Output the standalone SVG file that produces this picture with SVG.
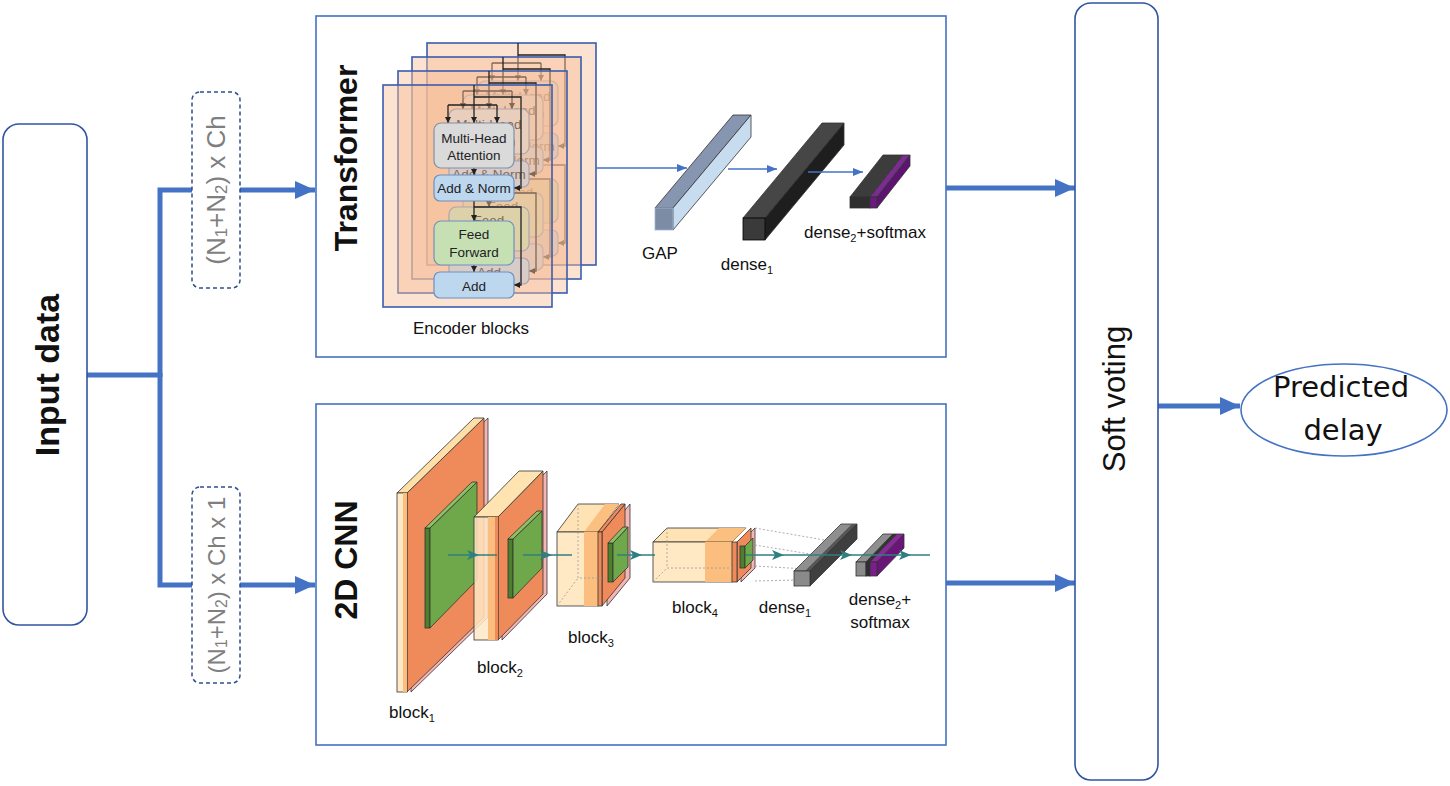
<svg xmlns="http://www.w3.org/2000/svg" width="1450" height="786" viewBox="0 0 1450 786">
<style>
text{font-family:"Liberation Sans",Arial,sans-serif;fill:#111}
.big{font-size:32px;font-weight:bold}
.lbl{font-size:17px}
.dim{font-size:26px;fill:#7F7F7F}
.sub{font-size:0.65em}
.frame{fill:none;stroke:#4472C4;stroke-width:1.6}
.node{fill:#fff;stroke:#2F55A0;stroke-width:1.6}
.dash{fill:#fff;stroke:#2F4F8F;stroke-width:1.5;stroke-dasharray:4 3}
.thick{fill:none;stroke:#4472C4;stroke-width:5;marker-end:url(#ab)}
.thin{fill:none;stroke:#4472C4;stroke-width:1.3;marker-end:url(#as)}
.pg{fill:#F6BE9A;fill-opacity:0.45;stroke:#3A5DAE;stroke-width:1.6}
.bx{font-size:13.5px;fill:#222}
.ka{fill:none;stroke:#222;stroke-width:1.3}
.ke{fill:none;stroke:#222;stroke-width:1.3;marker-end:url(#ak)}
.teal{fill:none;stroke:#2F7F7F;stroke-width:1.5;marker-mid:url(#at)}
.ed{stroke:#333;stroke-width:0.8}
.hid{fill:none;stroke:#999;stroke-width:0.8;stroke-dasharray:2 2}
.yel{fill:#FFE8C4}
.lor{fill:#FBBE7E}
.org{fill:#EF8B5A}
.pnk{fill:#F4B6B4}
.gd{fill:#4E7F2E}
.gs{fill:#6FA84A}
.gt{fill:#8CC063}
</style>
<defs>
<marker id="ab" markerUnits="userSpaceOnUse" markerWidth="20" markerHeight="18" refX="20" refY="9" orient="auto"><path d="M0,0 L20,9 L0,18 z" fill="#4472C4"/></marker>
<marker id="as" markerUnits="userSpaceOnUse" markerWidth="10" markerHeight="8" refX="10" refY="4" orient="auto"><path d="M0,0 L10,4 L0,8 z" fill="#4472C4"/></marker>
<marker id="ak" markerUnits="userSpaceOnUse" markerWidth="6" markerHeight="6" refX="6" refY="3" orient="auto"><path d="M0,0 L6,3 L0,6 z" fill="#222"/></marker>
<marker id="at" markerUnits="userSpaceOnUse" markerWidth="12" markerHeight="10" refX="8" refY="5" orient="auto"><path d="M0,0 L12,5 L0,10 L3,5 z" fill="#2F7F7F"/></marker>
</defs>

<g id="connectors">
<path d="M87,375 H160" fill="none" stroke="#4472C4" stroke-width="5"/>
<path class="thick" d="M160,377 V190 H315"/>
<path class="thick" d="M160,373 V585 H315"/>
<path class="thick" d="M946,188 H1075"/>
<path class="thick" d="M946,583 H1075"/>
<path class="thick" d="M1158,406 H1240"/>
</g>

<g id="input-data">
<rect class="node" x="3" y="124" width="84" height="501" rx="16"/>
<text class="big" transform="translate(47,375) rotate(-90)" text-anchor="middle" dominant-baseline="central" style="font-size:34px">Input data</text>
</g>

<g id="dim-transformer">
<rect class="dash" x="192" y="92" width="48" height="196" rx="8"/>
<text class="dim" transform="translate(216,190) rotate(-90)" text-anchor="middle" dominant-baseline="central">(N<tspan class="sub" dy="5">1</tspan><tspan dy="-5">+N</tspan><tspan class="sub" dy="5">2</tspan><tspan dy="-5">) x Ch</tspan></text>
</g>

<g id="dim-cnn">
<rect class="dash" x="192" y="487" width="48" height="196" rx="8"/>
<text class="dim" transform="translate(216,585) rotate(-90)" text-anchor="middle" dominant-baseline="central" style="font-size:24px">(N<tspan class="sub" dy="5">1</tspan><tspan dy="-5">+N</tspan><tspan class="sub" dy="5">2</tspan><tspan dy="-5">) x Ch x 1</tspan></text>
</g>

<g id="transformer">
<rect class="frame" x="316" y="16" width="630" height="341"/>
<text class="big" transform="translate(346,158) rotate(-90)" text-anchor="middle" dominant-baseline="central">Transformer</text>
<use href="#enc1" transform="translate(44,-42)"/>
<use href="#enc1" transform="translate(29,-28)"/>
<use href="#enc1" transform="translate(15,-14)"/>
<g id="enc1" transform="translate(383,85)">
<rect class="pg" width="169" height="222"/>
<path class="ka" d="M91,0 V20 M65,20 H114"/>
<path class="ke" d="M65,20 V38"/><path class="ke" d="M91,20 V38"/><path class="ke" d="M114,20 V38"/>
<path class="ke" d="M91,12 H138 V103 H131"/>
<path class="ke" d="M91,83 V90"/>
<path class="ke" d="M91,116 V136"/>
<path class="ke" d="M91,122 H138 V200 H131"/>
<path class="ke" d="M91,180 V187"/>
<rect x="51" y="38" width="80" height="45" rx="7" fill="#DADADA" stroke="#8090A8" stroke-width="1.2"/>
<text class="bx" x="91" y="58" text-anchor="middle">Multi-Head</text>
<text class="bx" x="91" y="75" text-anchor="middle">Attention</text>
<rect x="51" y="90" width="80" height="26" rx="6" fill="#BDD7EE" stroke="#6F8FBF" stroke-width="1.2"/>
<text class="bx" x="91" y="108" text-anchor="middle">Add &amp; Norm</text>
<rect x="51" y="136" width="80" height="44" rx="7" fill="#C6E0B4" stroke="#6F8FBF" stroke-width="1.2"/>
<text class="bx" x="91" y="154" text-anchor="middle">Feed</text>
<text class="bx" x="91" y="172" text-anchor="middle">Forward</text>
<rect x="51" y="187" width="80" height="26" rx="6" fill="#BDD7EE" stroke="#6F8FBF" stroke-width="1.2"/>
<text class="bx" x="91" y="206" text-anchor="middle">Add</text>
</g>
<text class="lbl" x="471" y="334" text-anchor="middle">Encoder blocks</text>
<path class="thin" d="M596,168 H687"/>
<g id="gap">
<polygon class="ed" points="655,208 673,208 751,115 733,115" fill="#8796B0" stroke="#9DB4D8"/>
<polygon class="ed" points="673,208 673,230 751,137 751,115" fill="#C8DCF0" stroke="#9DB4D8"/>
<rect x="655" y="208" width="18" height="22" fill="#7D8CA5" stroke="#9DB4D8" stroke-width="0.8"/>
</g>
<path class="thin" d="M728,169 H777"/>
<g id="t-dense1">
<polygon class="ed" points="743,218 765,218 844,123 822,123" fill="#464646" stroke="#000"/>
<polygon class="ed" points="765,218 765,240 844,145 844,123" fill="#1E1E1E" stroke="#000"/>
<rect x="743" y="218" width="22" height="22" fill="#3A3A3A" stroke="#000" stroke-width="0.8"/>
</g>
<path class="thin" d="M808,172 H863"/>
<g id="t-dense2">
<polygon class="ed" points="850,197 870,197 903,155 883,155" fill="#3C3C3C"/>
<polygon class="ed" points="870,197 877,197 910,155 903,155" fill="#7B2C8F"/>
<polygon class="ed" points="877,197 877,208 910,166 910,155" fill="#5C1470"/>
<rect class="ed" x="850" y="197" width="20" height="11" fill="#2E2E2E"/>
<rect class="ed" x="870" y="197" width="7" height="11" fill="#6A1B7E"/>
</g>
<text class="lbl" x="660" y="259" text-anchor="middle">GAP</text>
<text class="lbl" x="747" y="270" text-anchor="middle">dense<tspan class="sub" dy="4">1</tspan></text>
<text class="lbl" x="865" y="238" text-anchor="middle">dense<tspan class="sub" dy="4">2</tspan><tspan dy="-4">+softmax</tspan></text>
</g>

<g id="cnn">
<rect class="frame" x="316" y="404" width="630" height="341"/>
<text class="big" transform="translate(346,560) rotate(-90)" text-anchor="middle" dominant-baseline="central">2D CNN</text>
<g id="block1">
<polygon class="ed pnk" points="411,493 488,418 488,617 411,692"/>
<polygon class="ed org" points="407,493 484,418 484,617 407,692"/>
<polygon class="ed" points="397,493 407,493 484,418 474,418" fill="#FFDFA8"/>
<rect class="ed yel" x="397" y="493" width="10" height="199"/>
<rect class="lor" x="403" y="493" width="4" height="199"/>
<rect class="ed gd" x="425" y="528" width="5" height="100"/>
<polygon class="ed gs" points="430,528 477,482 477,580 430,628"/>
<polygon class="ed gt" points="425,528 430,528 477,482 472,482"/>
</g>
<g id="block2">
<polygon class="ed pnk" points="502,517 547,471 547,594 502,640"/>
<polygon class="ed org" points="498,517 543,471 543,594 498,640"/>
<polygon class="ed" points="474,517 498,517 543,471 519,471" fill="#FFE3B0"/>
<rect class="ed yel" x="474" y="517" width="24" height="123" fill-opacity="0.85"/>
<rect class="lor" x="488" y="517" width="7" height="123"/>
<rect class="org" x="495" y="517" width="3" height="123"/>
<rect class="ed gd" x="508" y="539" width="5" height="59"/>
<polygon class="ed gs" points="513,539 542,511 542,568 513,598"/>
<polygon class="ed gt" points="508,539 513,539 542,511 537,511"/>
</g>
<g id="block3">
<polygon class="ed pnk" points="607,532 630,504 630,578 607,606"/>
<polygon class="ed org" points="602,532 625,504 625,578 602,606"/>
<polygon class="ed" points="557,532 598,532 619,504 578,504" fill="#FFE3B5"/>
<polygon points="584,532 598,532 619,504 605,504" fill="#FBC07F"/>
<polygon class="ed org" points="598,532 602,532 625,504 621,504"/>
<rect class="ed yel" x="557" y="532" width="41" height="74"/>
<rect class="lor" x="584" y="532" width="14" height="74"/>
<rect class="ed org" x="598" y="532" width="4" height="74"/>
<path class="hid" d="M578,504 V578 H619 M557,606 L578,578"/>
<rect class="ed gd" x="608" y="543" width="5" height="39"/>
<polygon class="ed gs" points="613,543 628,527 628,567 613,582"/>
<polygon class="ed gt" points="608,543 613,543 628,527 623,527"/>
</g>
<g id="block4">
<polygon class="ed pnk" points="741,542 755,528 755,568 741,582"/>
<polygon class="ed org" points="737,542 751,528 751,568 737,582"/>
<polygon class="ed" points="653,542 732,542 746,528 667,528" fill="#FFE3B5"/>
<polygon points="705,542 732,542 746,528 719,528" fill="#FBC07F"/>
<rect class="ed yel" x="653" y="542" width="79" height="40"/>
<rect class="lor" x="705" y="542" width="27" height="40"/>
<rect class="ed org" x="732" y="542" width="5" height="40"/>
<path class="hid" d="M667,528 V568 H732 M653,582 L667,568"/>
<rect class="ed gd" x="740" y="546" width="5" height="22"/>
<polygon class="ed gs" points="745,546 753,538 753,560 745,568"/>
</g>
<path class="hid" stroke="#888" d="M755,528 L830,541 M755,545 L816,555 M755,566 L806,569 M755,581 L797,580"/>
<g id="c-dense1">
<polygon class="ed" points="794,571 810,571 857,524 841,524" fill="#8F8F8F"/>
<polygon points="805,571 810,571 857,524 852,524" fill="#555"/>
<polygon class="ed" points="810,571 810,586 857,539 857,524" fill="#3F3F3F"/>
<rect class="ed" x="794" y="571" width="16" height="15" fill="#8A8A8A"/>
</g>
<g id="c-dense2">
<polygon class="ed" points="856,562 866,562 893,534 883,534" fill="#8F8F8F"/>
<polygon class="ed" points="866,562 870,562 897,534 893,534" fill="#333"/>
<polygon class="ed" points="870,562 877,562 904,534 897,534" fill="#8B2A9B"/>
<polygon class="ed" points="877,562 877,576 904,548 904,534" fill="#6A1578"/>
<rect class="ed" x="856" y="562" width="10" height="14" fill="#8A8A8A"/>
<rect class="ed" x="866" y="562" width="4" height="14" fill="#2E2E2E"/>
<rect class="ed" x="870" y="562" width="7" height="14" fill="#7A1E8A"/>
</g>
<path class="teal" d="M448,555 L475,555 L497,555"/>
<path class="teal" d="M523,555 L548,555 L572,555"/>
<path class="teal" d="M617,555 L638,555 L655,555"/>
<path class="teal" d="M745,555 L780,555 L848,555 L907,555 L930,555"/>
<text class="lbl" x="412" y="718" text-anchor="middle">block<tspan class="sub" dy="4">1</tspan></text>
<text class="lbl" x="500" y="673" text-anchor="middle">block<tspan class="sub" dy="4">2</tspan></text>
<text class="lbl" x="591" y="643" text-anchor="middle">block<tspan class="sub" dy="4">3</tspan></text>
<text class="lbl" x="695" y="613" text-anchor="middle">block<tspan class="sub" dy="4">4</tspan></text>
<text class="lbl" x="785" y="613" text-anchor="middle">dense<tspan class="sub" dy="4">1</tspan></text>
<text class="lbl" x="880" y="605" text-anchor="middle">dense<tspan class="sub" dy="4">2</tspan><tspan dy="-4">+</tspan></text>
<text class="lbl" x="880" y="628" text-anchor="middle">softmax</text>
</g>

<g id="soft-voting">
<rect class="node" x="1075" y="3" width="83" height="777" rx="16"/>
<text transform="translate(1114,399) rotate(-90)" text-anchor="middle" dominant-baseline="central" style="font-size:31px">Soft voting</text>
</g>

<g id="predicted-delay">
<ellipse cx="1344" cy="410" rx="103" ry="46" fill="#fff" stroke="#4472C4" stroke-width="1.6"/>
<text x="1341" y="397" text-anchor="middle" style="font-family:'DejaVu Sans',sans-serif;font-size:29px">Predicted</text>
<text x="1343" y="440" text-anchor="middle" style="font-family:'DejaVu Sans',sans-serif;font-size:29px">delay</text>
</g>
</svg>
